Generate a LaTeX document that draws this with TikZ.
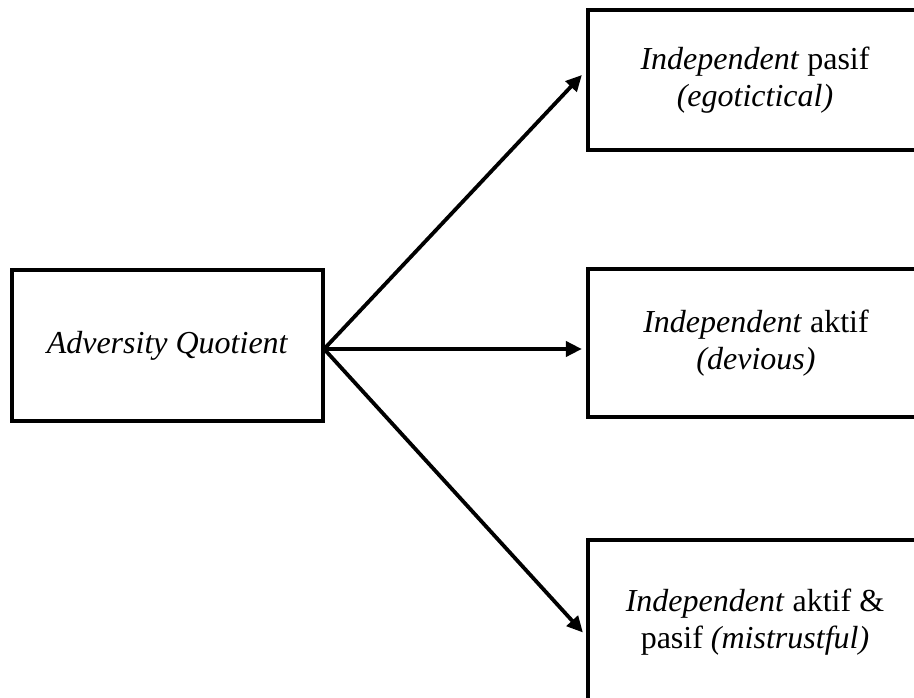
\documentclass[tikz,border=0pt]{standalone}
\usepackage{fontspec}
\setmainfont{Liberation Serif}
\usetikzlibrary{arrows.meta}
\begin{document}
\begin{tikzpicture}[x=1pt,y=-1pt,
  box/.style={draw=black,line width=4.2pt,rectangle,inner sep=0pt,align=center,
    font=\fontsize{32}{37}\selectfont},
  conn/.style={line width=3.8pt,-{Triangle[length=16pt,width=15pt]}}]
\useasboundingbox (0,0) rectangle (914,698);
\clip (0,0) rectangle (914,698);
\node[box,minimum width=311pt,minimum height=151pt] (aq) at (167.5,345.5) {\textit{Adversity Quotient}};
\node[box,minimum width=334pt,minimum height=140pt] (b1) at (755,80) {\textit{Independent} pasif\\\textit{(egotictical)}};
\node[box,minimum width=336pt,minimum height=148pt] (b2) at (756,343) {\textit{Independent} aktif\\\textit{(devious)}};
\node[box,minimum width=334pt,minimum height=165pt] (b3) at (755,622.5) {\textit{Independent} aktif \&\\pasif \textit{(mistrustful)}};
\coordinate (o) at ([xshift=-1pt,yshift=-3.5pt]aq.east);
\draw[conn] (o) -- ([xshift=-4pt,yshift=5pt]b1.west);
\draw[conn] (o) -- ([xshift=-4pt,yshift=-6pt]b2.west);
\draw[conn] (o) -- ([xshift=-3pt,yshift=-10pt]b3.west);
\end{tikzpicture}
\end{document}
